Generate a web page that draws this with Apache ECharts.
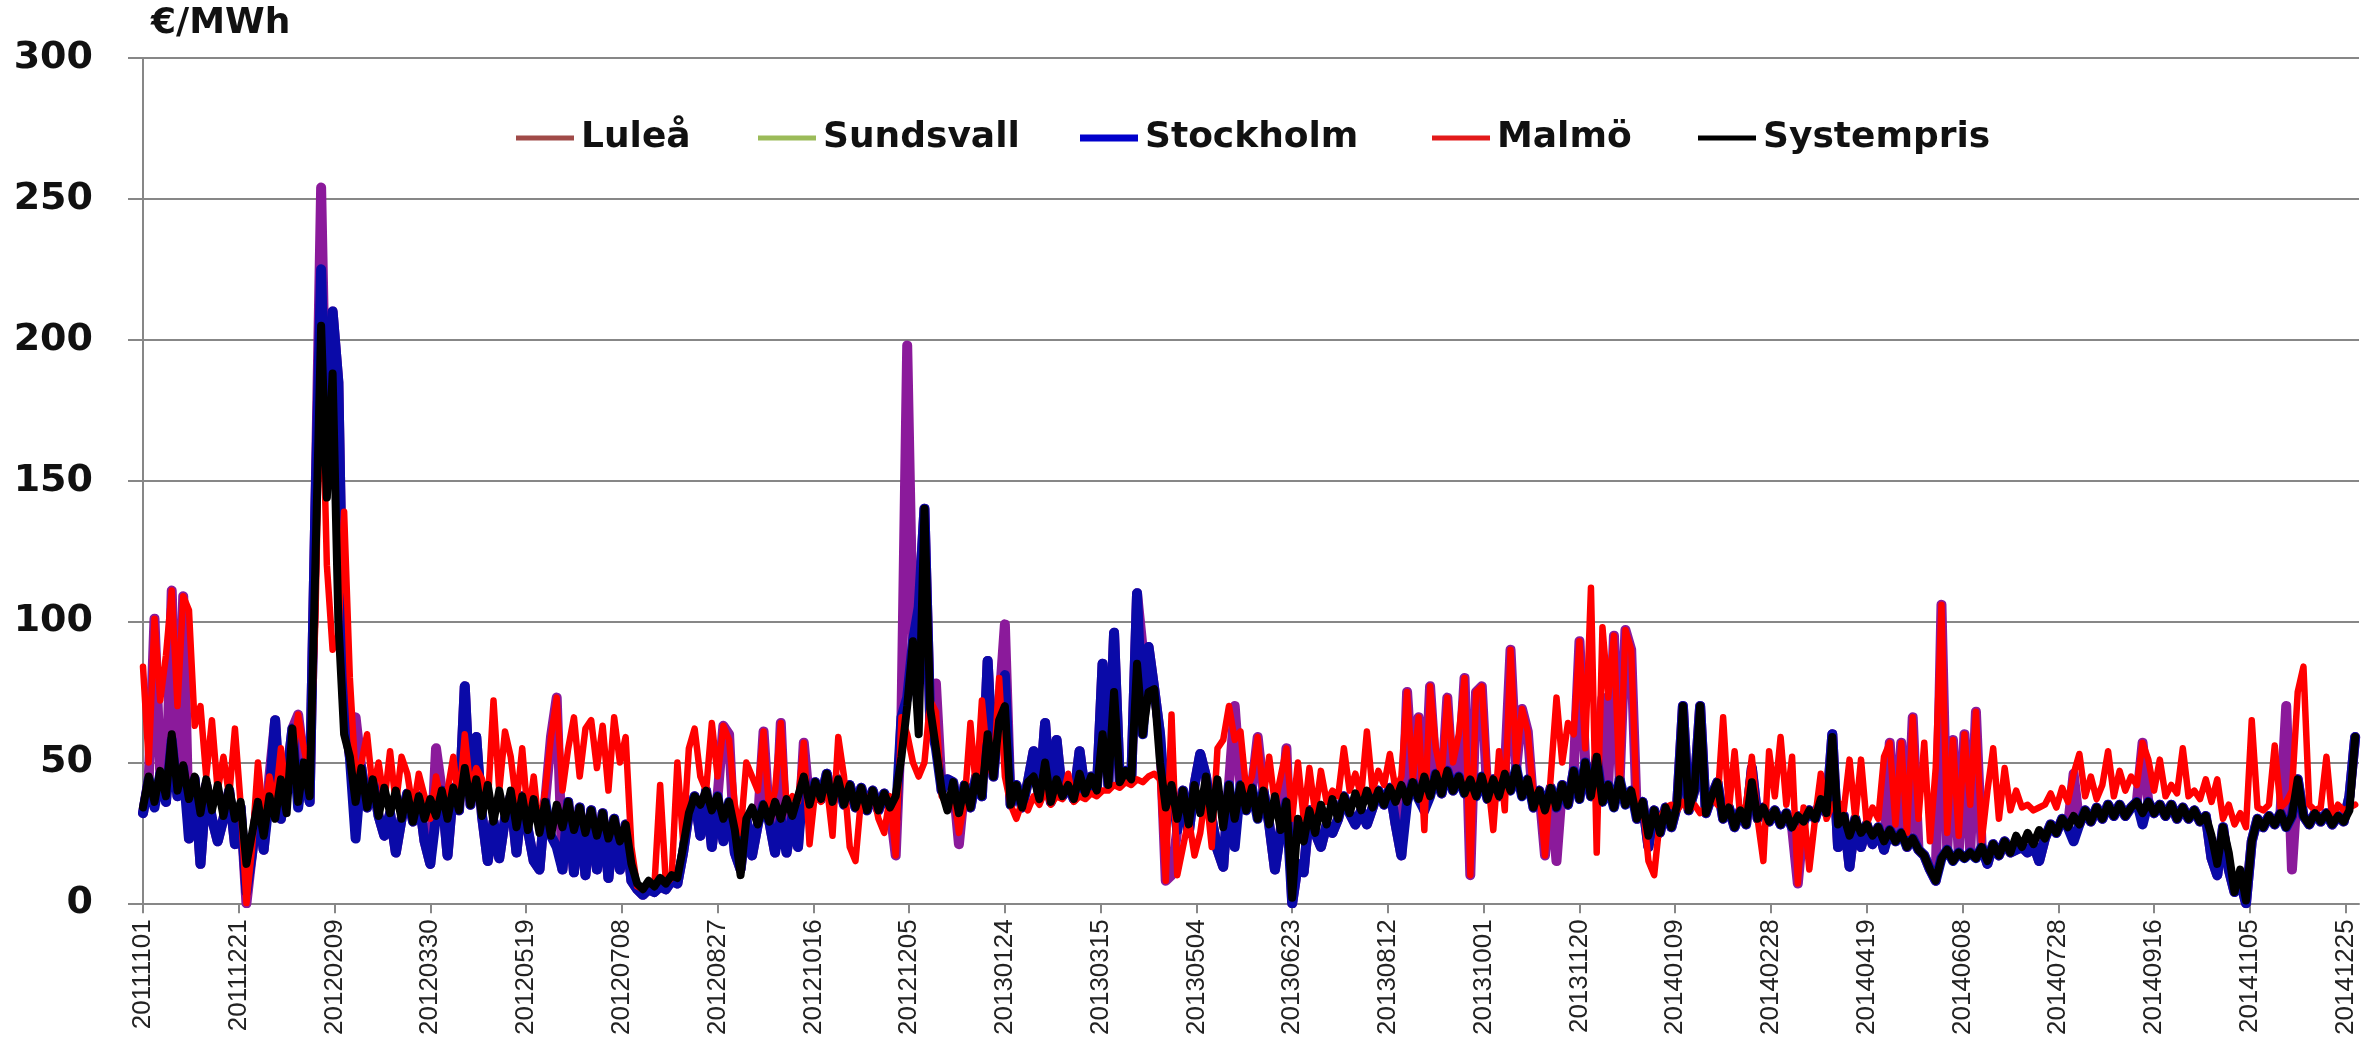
<!DOCTYPE html>
<html><head><meta charset="utf-8">
<script src="https://cdn.jsdelivr.net/npm/echarts@6/dist/echarts.min.js"></script>
<style>html,body{margin:0;padding:0;background:#fff}#c{width:2379px;height:1038px}</style>
</head><body><div id="c"></div>
<script>
// x values are days since 2011-11-01, all series sampled every 3 days
const STEP = 3;

const tickLabels = ['20111101','20111221','20120209','20120330','20120519','20120708','20120827','20121016','20121205','20130124','20130315','20130504','20130623','20130812','20131001','20131120','20140109','20140228','20140419','20140608','20140728','20140916','20141105','20141225'];

const seriesNames = ['Luleå','Sundsvall','Stockholm','Malmö','Systempris'];

const systempris = [
34,45,36,47,38,60,40,49,37,45, 32,44,33,42,31,41,30,36,14,25,
36,24,38,30,44,32,62,36,50,38, 120,205,144,188,100,60,52,36,48,34,
44,31,41,32,40,30,39,29,38,30, 37,31,40,30,41,33,48,35,44,31,
42,29,40,30,40,27,38,26,37,25, 36,24,35,27,36,26,34,25,33,24,
32,23,30,22,28,14,7,5,8,6, 9,7,10,9,20,32,38,35,40,33,
38,30,36,26,10,30,34,28,35,29, 36,30,37,31,38,45,35,43,37,46,
36,44,35,42,34,41,33,40,33,39, 34,38,52,70,93,60,140,69,55,40,
33,43,32,42,34,45,38,60,45,65, 70,35,42,34,43,45,37,50,36,44,
38,42,37,46,39,45,40,60,42,75, 43,47,44,85,60,75,76,50,34,42,
30,40,28,42,32,45,30,44,27,42, 30,42,33,41,30,40,28,38,26,36,
2,30,22,33,25,35,28,37,30,38, 32,39,33,40,34,40,35,41,36,42,
36,43,37,45,38,46,39,47,40,45, 39,44,38,45,37,44,38,46,40,48,
38,44,34,40,33,41,34,42,35,47, 37,50,38,52,36,42,34,44,35,40,
30,36,24,33,25,34,27,35,70,33, 40,70,32,38,43,30,34,27,33,28,
43,30,34,29,33,28,32,27,31,29, 33,30,37,32,59,28,31,24,30,25,
28,24,27,22,26,22,25,20,23,19, 17,12,8,16,19,15,18,16,18,16,
20,15,21,17,22,18,24,20,25,21, 26,23,28,25,30,27,31,28,33,29,
34,30,35,31,35,31,34,36,32,36, 32,35,31,35,30,34,30,33,29,31,
24,14,27,18,4,12,1,22,30,27, 31,28,32,27,31,44,31,28,32,29,
32,28,31,29,33,59];

const stockholm = [
32,44,34,46,36,58,38,48,23,44, 14,42,30,22,30,40,21,34,4,18,
36,19,38,65,30,44,62,34,50,36, 140,225,150,210,185,70,52,23,48,34,
44,31,24,32,18,30,39,29,38,22, 14,31,40,17,41,33,77,35,59,31,
15,29,16,30,38,18,38,26,15,12, 36,24,20,12,36,11,34,10,33,12,
32,9,30,12,28,8,5,3,5,4, 6,5,8,7,18,32,38,24,40,20,
38,22,36,18,12,30,17,28,35,29, 18,30,18,31,20,45,35,43,37,46,
36,44,35,42,34,41,33,40,33,39, 34,30,66,73,93,105,140,65,55,40,
44,43,30,42,34,45,38,86,45,70, 81,35,42,34,43,54,37,64,36,58,
38,42,37,54,39,45,40,85,42,96, 43,47,44,110,60,91,76,60,34,42,
26,40,25,42,53,45,30,19,13,42, 20,42,33,41,30,40,28,12,26,36,
0,14,11,33,25,20,28,25,30,38, 32,28,33,28,34,40,35,41,28,17,
36,43,37,33,38,46,39,47,40,45, 39,44,38,45,37,44,38,46,40,48,
38,44,34,40,33,41,34,42,35,47, 37,50,38,52,36,42,34,44,35,40,
30,36,20,33,25,34,27,35,70,33, 40,70,32,38,43,30,34,27,33,28,
48,30,34,29,33,28,32,27,31,29, 33,30,37,32,60,20,31,13,30,20,
28,21,27,19,26,22,25,20,23,19, 17,12,8,16,19,15,18,16,18,16,
20,14,21,17,22,18,19,20,18,21, 15,23,28,25,30,27,22,28,33,29,
34,30,35,31,35,31,34,36,28,36, 32,35,31,35,30,34,30,33,29,31,
16,10,27,12,4,8,0,22,30,27, 31,28,32,27,31,44,31,28,32,29,
32,28,31,29,38,59];

const sundsvall = [
32,44,34,46,36,58,38,48,23,44, 14,42,30,22,30,40,21,34,4,18,
36,19,38,65,30,44,62,34,50,36, 140,225,150,210,185,70,52,23,48,34,
44,31,24,32,18,30,39,29,38,22, 14,31,40,17,41,33,77,35,59,31,
15,29,16,30,38,18,38,26,15,12, 36,24,20,12,36,11,34,10,33,12,
32,9,30,12,28,8,5,3,5,4, 6,5,8,7,18,32,38,24,40,20,
38,22,36,18,12,30,17,28,35,29, 18,30,18,31,20,45,35,43,37,46,
36,44,35,42,34,41,33,40,33,39, 34,30,66,73,93,105,140,65,55,40,
44,43,30,42,34,45,38,86,45,70, 81,35,42,34,43,54,37,64,36,58,
38,42,37,54,39,45,40,85,42,96, 43,47,44,110,60,91,76,60,34,42,
26,40,25,42,53,45,30,19,13,42, 20,42,33,41,30,40,28,12,26,36,
0,14,11,33,25,20,28,25,30,38, 32,28,33,28,34,40,35,41,28,17,
36,43,37,33,38,46,39,47,40,45, 39,44,38,45,37,44,38,46,40,48,
38,44,34,40,33,41,34,42,35,47, 37,50,38,52,36,42,34,44,35,40,
30,36,20,33,25,34,27,35,70,33, 40,70,32,38,43,30,34,27,33,28,
48,30,34,29,33,28,32,27,31,29, 33,30,37,32,60,20,31,13,30,20,
28,21,27,19,26,22,25,20,23,19, 17,12,8,16,19,15,18,16,18,16,
20,14,21,17,22,18,19,20,18,21, 15,23,28,25,30,27,22,28,33,29,
34,30,35,31,35,31,34,36,28,36, 32,35,31,35,30,34,30,33,29,31,
16,10,27,12,4,8,0,22,30,27, 31,28,32,27,31,44,31,28,32,29,
32,28,31,29,38,59];

const lulea = [
32,44,101,46,36,111,38,109,23,44, 14,42,30,22,30,40,21,34,0,18,
36,19,45,65,30,44,62,67,50,36, 140,254,150,210,185,70,52,66,48,34,
44,31,24,32,18,30,39,29,38,22, 14,55,40,17,41,33,77,35,59,31,
15,29,16,30,38,18,38,26,15,12, 36,59,73,12,36,11,34,10,33,12,
32,9,30,12,28,8,5,3,5,4, 6,5,8,7,18,32,38,24,40,20,
38,63,60,18,12,30,17,28,61,29, 18,64,18,31,20,57,35,43,37,46,
36,44,35,42,34,41,33,40,33,39, 34,17,66,198,93,105,140,65,78,40,
44,43,21,42,34,45,38,86,45,70, 99,35,42,34,43,54,37,64,36,58,
38,42,37,54,39,45,40,85,42,96, 43,47,44,110,90,91,76,60,8,10,
26,40,25,42,53,45,30,19,13,42, 70,42,33,41,59,40,28,12,26,55,
0,14,11,33,25,20,28,25,30,38, 32,28,33,28,34,40,35,41,28,17,
75,43,66,33,77,46,39,73,40,45, 80,10,75,77,37,44,38,46,90,48,
69,61,34,40,17,41,15,42,35,47, 93,50,38,52,73,42,95,44,97,90,
30,36,20,33,25,34,27,35,70,33, 40,70,32,38,43,30,34,27,33,28,
48,30,34,29,33,28,32,27,7,29, 33,30,37,32,60,20,31,13,30,20,
28,21,27,19,57,22,57,20,66,19, 17,12,8,106,19,58,18,60,18,68,
20,14,21,17,22,18,19,20,18,21, 15,23,28,25,30,27,46,28,33,29,
34,30,35,31,35,31,34,36,57,36, 32,35,31,35,30,34,30,33,29,31,
16,10,27,12,4,8,0,22,30,27, 31,28,32,70,12,44,31,28,32,29,
32,28,31,29,38,59];

const malmo = [
84,50,101,72,88,111,70,109,104,63, 70,45,65,40,52,38,62,35,0,20,
50,30,45,35,55,38,50,67,55,45, 100,203,120,90,95,139,80,45,50,60,
40,50,36,54,35,52,46,33,46,38, 30,45,35,40,52,35,60,40,48,44,
35,72,40,61,52,35,55,30,45,25, 40,59,73,40,55,66,45,62,65,48,
63,40,66,50,59,20,6,5,8,6, 42,7,9,50,22,55,62,45,40,64,
45,63,58,35,25,50,45,40,61,32, 40,64,35,38,36,57,21,40,36,42,
24,59,45,20,15,38,36,40,30,25, 38,17,66,60,50,45,50,72,68,38,
35,40,25,36,64,40,72,50,45,80, 45,35,30,36,33,38,35,40,35,38,
37,46,36,38,37,39,38,40,40,42, 41,43,42,44,43,45,46,44,8,67,
10,20,30,17,25,40,20,55,58,70, 58,61,40,45,59,38,52,35,45,55,
30,50,30,48,32,47,36,40,38,55, 40,46,38,61,40,47,42,53,40,45,
75,44,66,26,77,55,45,73,50,60, 80,10,75,77,45,26,54,33,90,50,
69,61,38,40,17,45,73,50,64,60, 93,55,112,18,98,73,95,40,97,90,
32,36,15,10,30,34,35,33,36,33, 35,32,34,38,35,66,33,54,30,35,
52,30,15,54,38,59,35,52,7,34, 12,30,46,30,35,36,33,51,30,51,
28,34,30,52,57,28,57,25,66,30, 57,22,48,106,25,58,24,60,35,68,
22,40,55,30,48,33,40,34,35,33, 34,35,39,34,41,36,46,53,38,45,
37,42,54,38,47,40,45,42,57,51, 40,51,38,42,39,55,38,40,37,44,
36,44,30,35,28,32,27,65,34,33, 35,56,34,36,40,75,84,35,33,34,
52,30,35,33,34,35];

const plotColors   = ['#8b1a9b','#9bbb59','#0a0aa8','#ff0000','#000000'];
const legendColors = ['#a04a48','#9bbb59','#0000cc','#e31a1a','#000000'];
const lineWidths   = [10, 3, 10, 6.5, 8];
const legendLeft   = [516, 758, 1080, 1432, 1698];

const valueLists = [lulea, sundsvall, stockholm, malmo, systempris];
const seriesData = valueLists.map(list => list.map((v, k) => [k * STEP, v]));

const tickValues = tickLabels.map((_, k) => k * 50);
const gray = '#878787';
const lastDay = 1157;

const chart = echarts.init(document.getElementById('c'), null, {renderer: 'canvas'});
chart.setOption({
  animation: false,
  backgroundColor: '#ffffff',
  grid: {left: 143, right: 20, top: 58, bottom: 134, containLabel: false},
  legend: seriesNames.map((n, k) => ({
    left: legendLeft[k], top: 120, padding: 0, icon: 'rect',
    itemWidth: 58, itemHeight: n === 'Stockholm' ? 7 : 5, itemGap: 0,
    selectedMode: false,
    data: [{name: n, itemStyle: {color: legendColors[k], borderWidth: 0}}],
    textStyle: {fontFamily: 'DejaVu Sans', fontWeight: 'bold', fontSize: 36, color: '#111', padding: [0, 0, 0, 2]}
  })),
  xAxis: {
    type: 'value', min: 0, max: lastDay, interval: 50,
    axisLine: {show: true, onZero: false, lineStyle: {color: gray, width: 2}},
    axisTick: {show: true, length: 10, customValues: tickValues, lineStyle: {color: gray, width: 2}},
    splitLine: {show: false},
    axisLabel: {
      customValues: tickValues,
      rotate: 90, margin: 16, fontFamily: 'Liberation Sans', fontSize: 26, color: '#222',
      formatter: v => tickLabels[Math.round(v / 50)] || ''
    }
  },
  yAxis: {
    type: 'value', min: 0, max: 300, interval: 50,
    name: '€/MWh', nameLocation: 'end', nameGap: 16,
    nameTextStyle: {align: 'left', fontFamily: 'DejaVu Sans', fontWeight: 'bold', fontSize: 36, color: '#111', padding: [0, 0, 0, 8]},
    axisLine: {show: true, lineStyle: {color: gray, width: 2}},
    axisTick: {show: true, length: 15, lineStyle: {color: gray, width: 2}},
    splitLine: {show: true, lineStyle: {color: gray, width: 2}},
    axisLabel: {margin: 50, fontFamily: 'DejaVu Sans', fontWeight: 'bold', fontSize: 38, color: '#111'}
  },
  series: seriesNames.map((n, k) => ({
    name: n, type: 'line', data: seriesData[k],
    showSymbol: false, symbol: 'none', silent: true,
    emphasis: {disabled: true},
    itemStyle: {color: plotColors[k]},
    lineStyle: {color: plotColors[k], width: lineWidths[k], cap: 'round', join: 'round'}
  }))
});
</script>
</body></html>
